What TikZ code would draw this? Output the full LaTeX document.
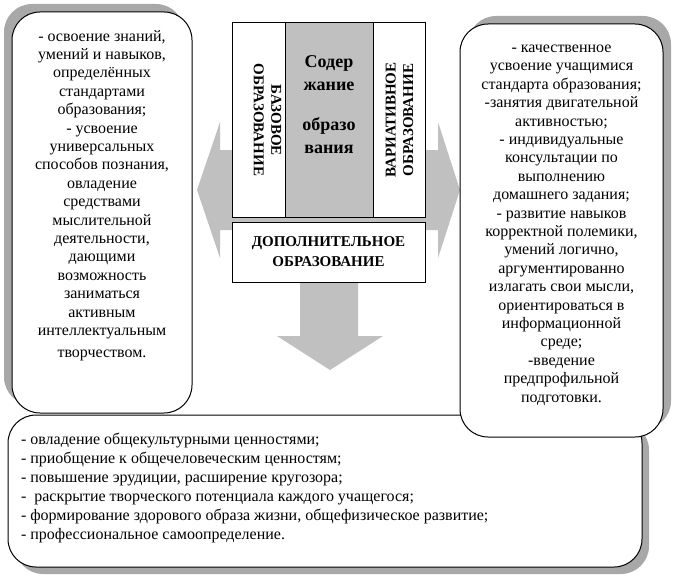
\documentclass[tikz,border=0pt]{standalone}
\usepackage{fontspec}
\setmainfont{Liberation Serif}
\usetikzlibrary{positioning,shadows}
\definecolor{arrowgray}{HTML}{C0C0C0}
\definecolor{shadowgray}{HTML}{A8A8A8}

\begin{document}
\begin{tikzpicture}[x=1pt,y=-1pt,line width=1pt,every node/.style={inner sep=0pt,outer sep=0pt},panel/.style={draw=black,fill=white,rounded corners=28pt,anchor=north west},cell/.style={draw=black,fill=white,anchor=north west,minimum height=#1},body/.style={font=\fontsize{16}{18.4}\selectfont,align=center},caps/.style={font=\fontsize{15}{17.5}\selectfont\bfseries,align=center},blockarrow/.style={fill=arrowgray,draw=none}]
\useasboundingbox (0,0) rectangle (674,578);
% grey block arrows behind the centre
\fill[blockarrow] (197,190)--(220,122)--(220,150)--(438,150)--(438,122)--(460,190)--(438,258)--(438,230)--(220,230)--(220,258)--cycle;
\fill[blockarrow] (300,282)--(358,282)--(358,336)--(383,336)--(330,370)--(277,336)--(300,336)--cycle;
% centre block
\node[cell=194pt,minimum width=53pt] (basic) at (232,23) {};
\node[cell=194pt,minimum width=88pt,fill=arrowgray] (core) at (285,23) {};
\node[cell=194pt,minimum width=52pt] (variative) at (373,23) {};
\node[cell=60pt,minimum width=193pt] (extra) at (232,222) {};
\node[caps,rotate=-90] (basiclabel) at ([xshift=9pt]basic.center) {БАЗОВОЕ\\ОБРАЗОВАНИЕ};
\node[caps,rotate=90] (variativelabel) at ([xshift=0.5pt]variative.center) {ВАРИАТИВНОЕ\\ОБРАЗОВАНИЕ};
\node[align=center,font=\fontsize{18}{23}\selectfont\bfseries] (corelabel) at ([yshift=15pt]core.center) {Содер\\жание\\[17pt]образо\\вания};
\node[align=center,font=\fontsize{15}{20}\selectfont\bfseries] (extralabel) at (extra.center) {ДОПОЛНИТЕЛЬНОЕ\\ОБРАЗОВАНИЕ};
% text panels
\node[panel,minimum width=634pt,minimum height=152pt,general shadow={fill=shadowgray,shadow xshift=7pt,shadow yshift=-7pt}] (common) at (8,415) {};
\node[panel,minimum width=180pt,minimum height=401pt,general shadow={fill=shadowgray,shadow xshift=-8pt,shadow yshift=8pt}] (basicbox) at (12,12) {};
\node[panel,minimum width=203pt,minimum height=413pt,general shadow={fill=shadowgray,shadow xshift=8pt,shadow yshift=8pt}] (variativebox) at (460,24) {};
\node[body] (basictext) at ([yshift=17pt]basicbox.center) {- освоение знаний,\\умений и навыков,\\определённых\\стандартами\\образования;\\- усвоение\\универсальных\\способов познания,\\овладение\\средствами\\мыслительной\\деятельности,\\дающими\\возможность\\заниматься\\активным\\интеллектуальным\\[3.6pt]творчеством.};
\node[body] (variativetext) at ([yshift=5.5pt]variativebox.center) {- качественное\\усвоение учащимися\\стандарта образования;\\-занятия двигательной\\активностью;\\- индивидуальные\\консультации по\\выполнению\\домашнего задания;\\- развитие навыков\\корректной полемики,\\умений логично,\\аргументированно\\излагать свои мысли,\\ориентироваться в\\информационной\\среде;\\-введение\\предпрофильной\\подготовки.};
\node[body,align=left,font=\fontsize{16}{19}\selectfont,anchor=west] (commontext) at (21,488) {- овладение общекультурными ценностями;\\- приобщение к общечеловеческим ценностям;\\- повышение эрудиции, расширение кругозора;\\-~~раскрытие творческого потенциала каждого учащегося;\\- формирование здорового образа жизни, общефизическое развитие;\\- профессиональное самоопределение.};
\end{tikzpicture}
\end{document}
